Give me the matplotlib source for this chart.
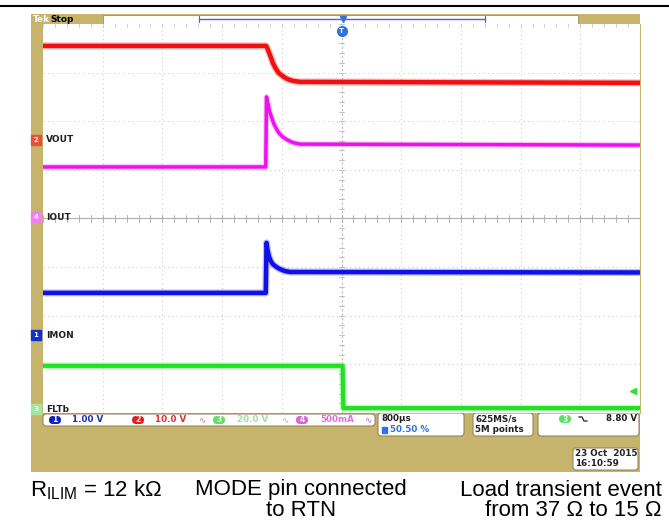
import numpy as np
import matplotlib.pyplot as plt
from matplotlib.patches import Rectangle, FancyBboxPatch

# Scope setup: 800 us/div horizontally, traces given in divisions from centre
t_div = 800  # us per division

# Channel 2 (red) - level in divisions
red_t = [-4000, -1010, -985, -950, -920, -880, -840, -780, -730, -650, -555, 4000]
red_y = [3.55, 3.55, 3.47, 3.33, 3.20, 3.08, 2.99, 2.92, 2.87, 2.83, 2.81, 2.79]

# Channel 4 (magenta)
mag_t = [-4000, -1015, -1005, -985, -960, -930, -905, -870, -840, -790, -730, -650, -555, 4000]
mag_y = [1.06, 1.06, 2.50, 2.35, 2.19, 2.05, 1.94, 1.84, 1.76, 1.68, 1.62, 1.56, 1.53, 1.51]

# Channel 1 (blue)
blu_t = [-4000, -1015, -1005, -990, -970, -945, -920, -870, -825, -760, -690, 4000]
blu_y = [-1.53, -1.53, -0.50, -0.66, -0.79, -0.88, -0.94, -1.00, -1.04, -1.08, -1.10, -1.11]

# Channel 3 (green)
grn_t = [-4000, 15, 25, 4000]
grn_y = [-3.03, -3.03, -3.90, -3.90]

# channel labels: (text, ground level in div, badge, badge colour)
ch_labels = [("VOUT", 1.62, "2", "#e8503a"),
             ("IOUT", 0.03, "4", "#f080f0"),
             ("IMON", -2.40, "1", "#1030d0"),
             ("FLTb", -3.92, "3", "#a0e8a0")]

captions_left = r"R$_{\mathrm{ILIM}}$ = 12 kΩ"
captions_mid = "MODE pin connected\nto RTN"
captions_right = "Load transient event\nfrom 37 Ω to 15 Ω"

W, H = 669, 523
tan = "#c6b36c"

plt.rcParams['mathtext.fontset'] = 'custom'
plt.rcParams['mathtext.rm'] = 'Liberation Sans'

fig = plt.figure(figsize=(W / 100, H / 100), dpi=100)

# background layer in pixel coordinates for the scope frame
bg = fig.add_axes([0, 0, 1, 1])
bg.set_xlim(0, W)
bg.set_ylim(H, 0)
bg.axis("off")

bg.plot([0, W], [6, 6], color="black", lw=1.5)
bg.add_patch(Rectangle((31, 14), 609, 458, color=tan, lw=0))
bg.add_patch(Rectangle((103, 15), 475, 8.5, facecolor="white", edgecolor="#a09060", lw=0.6))
bg.plot([199, 485], [18.5, 18.5], color="#5060d0", lw=1.0)
bg.plot([199, 199], [15.5, 21.5], color="#5060d0", lw=0.8)
bg.plot([485, 485], [15.5, 21.5], color="#5060d0", lw=0.8)
bg.text(33, 19, "Tek", color="white", fontsize=6.5, va="center", weight="bold")
bg.text(50, 19, "Stop", color="black", fontsize=6.5, va="center", weight="bold")

# bottom readout boxes
def box(x0, y0, w, h):
    bg.add_patch(FancyBboxPatch((x0, y0), w, h, boxstyle="round,pad=0,rounding_size=3",
                                facecolor="white", edgecolor="#8a7a50", lw=0.7))

box(43, 414, 332, 12)
box(378, 413, 86, 23)
box(473, 413, 60, 23)
box(538, 413, 101, 23)
box(573, 448, 65, 22)

fs = 6.3
def badge(x, y, s, c, tc="white"):
    bg.add_patch(FancyBboxPatch((x - 6, y - 4), 12, 8, boxstyle="round,pad=0,rounding_size=4",
                                facecolor=c, edgecolor="none"))
    bg.text(x, y, s, color=tc, fontsize=5.5, ha="center", va="center", weight="bold")

badge(55, 420, "1", "#1020c0")
bg.text(72, 420, "1.00 V", color="#2030b0", fontsize=fs, va="center", weight="bold")
badge(138, 420, "2", "#e02020")
bg.text(155, 420, "10.0 V", color="#e03030", fontsize=fs, va="center", weight="bold")
bg.text(202, 420, "∿", color="#d08060", fontsize=fs, va="center", ha="center")
badge(219, 420, "3", "#60e060")
bg.text(237, 420, "20.0 V", color="#a0e0a0", fontsize=fs, va="center", weight="bold")
bg.text(285, 420, "∿", color="#a0c090", fontsize=fs, va="center", ha="center")
badge(302, 420, "4", "#e060e0")
bg.text(320, 420, "500mA", color="#e070e0", fontsize=fs, va="center", weight="bold")
bg.text(368, 420, "∿", color="#c060c0", fontsize=fs, va="center", ha="center")

bg.text(382, 418.5, "800µs", color="#202020", fontsize=fs, va="center", weight="bold")
bg.add_patch(Rectangle((382, 427), 5, 6, color="#3070e0"))
bg.text(390, 430, "50.50 %", color="#3070e0", fontsize=fs, va="center", weight="bold")
bg.text(475, 418.5, "625MS/s", color="#202020", fontsize=fs, va="center", weight="bold")
bg.text(475, 430, "5M points", color="#202020", fontsize=fs, va="center", weight="bold")
badge(565, 419, "3", "#60e060")
bg.plot([579, 582, 584, 587], [417, 417, 421, 421], color="#202020", lw=0.9)
bg.text(637, 418.5, "8.80 V", color="#202020", fontsize=fs, va="center", ha="right", weight="bold")
bg.text(575, 453.5, "23 Oct  2015", color="#202020", fontsize=fs, va="center", weight="bold")
bg.text(575, 464, "16:10:59", color="#202020", fontsize=fs, va="center", weight="bold")

# captions
cap = dict(fontsize=16, family=["Liberation Sans", "DejaVu Sans"], color="black",
           linespacing=1.0, va="center")
bg.text(30, 490, captions_left, ha="left", **cap)
bg.text(301, 500.5, captions_mid, ha="center", multialignment="center", **cap)
bg.text(662, 500.5, captions_right, ha="right", multialignment="right", **cap)

# scope graticule
ax = fig.add_axes([43 / W, 1 - 413 / H, 597 / W, 389 / H])
ax.set_xlim(-5 * t_div, 5 * t_div)
ax.set_ylim(-4, 4)
ax.set_facecolor("white")
for s in ax.spines.values():
    s.set_visible(False)
ax.spines["right"].set_visible(True)
ax.spines["right"].set_color(tan)
ax.set_xticks([])
ax.set_yticks([])

grid_kw = dict(color="#cccccc", lw=0.8, ls=(0, (1, 3)))
for k in range(-4, 5):
    ax.axvline(k * t_div, **grid_kw)
for k in range(-3, 4):
    ax.axhline(k, **grid_kw)
ax.axhline(0, color="#b0b0b0", lw=0.8)
ax.axvline(0, color="#c0c0c0", lw=0.8, ls=(0, (2, 2)))
for m in np.arange(-5, 5.01, 0.2):
    ax.plot([m * t_div] * 2, [-0.07, 0.07], color="#a8a8a8", lw=0.6)
for m in np.arange(-4, 4.01, 0.2):
    ax.plot([-40, 40], [m, m], color="#b8b8b8", lw=0.6)
for m in np.arange(-5, 5.01, 0.2):
    ax.plot([m * t_div] * 2, [3.93, 4.0], color="#c8c8c8", lw=0.6)

# traces
ax.plot(red_t, red_y, color="#ff3030", lw=5, alpha=0.35, solid_capstyle="butt")
ax.plot(red_t, red_y, color="#f01010", lw=3.2, solid_capstyle="butt")
ax.plot(mag_t, mag_y, color="#ff40ff", lw=4, alpha=0.35, solid_capstyle="butt")
ax.plot(mag_t, mag_y, color="#ee10ee", lw=2.5, solid_capstyle="butt")
ax.plot(blu_t, blu_y, color="#4040ff", lw=5, alpha=0.35, solid_capstyle="butt")
ax.plot(blu_t, blu_y, color="#1010e8", lw=3.2, solid_capstyle="butt")
ax.plot(grn_t, grn_y, color="#50f050", lw=4.8, alpha=0.4, solid_capstyle="butt")
ax.plot(grn_t, grn_y, color="#22e022", lw=3.0, solid_capstyle="butt")
ax.plot([3900], [-3.55], marker="<", color="#30e030", ms=4, clip_on=False)

# trigger marker
ax.plot([0], [3.85], marker="o", color="#3070e0", ms=7, clip_on=False)
ax.text(0, 3.85, "T", color="white", fontsize=5, ha="center", va="center", weight="bold")
bg.plot([343], [19], marker="v", color="#3070e0", ms=5)

# channel labels on the left edge
for name, lvl, num, col in ch_labels:
    ax.text(-3960, lvl, name, color="#202020", fontsize=6.5, va="center", ha="left", weight="bold")
    ax.plot([-4000 - 95], [lvl], marker="s", ms=7, color=col, clip_on=False)
    ax.text(-4000 - 95, lvl, num, color="white", fontsize=5, ha="center", va="center",
            weight="bold", clip_on=False)

fig.savefig("out.png", dpi=100)
